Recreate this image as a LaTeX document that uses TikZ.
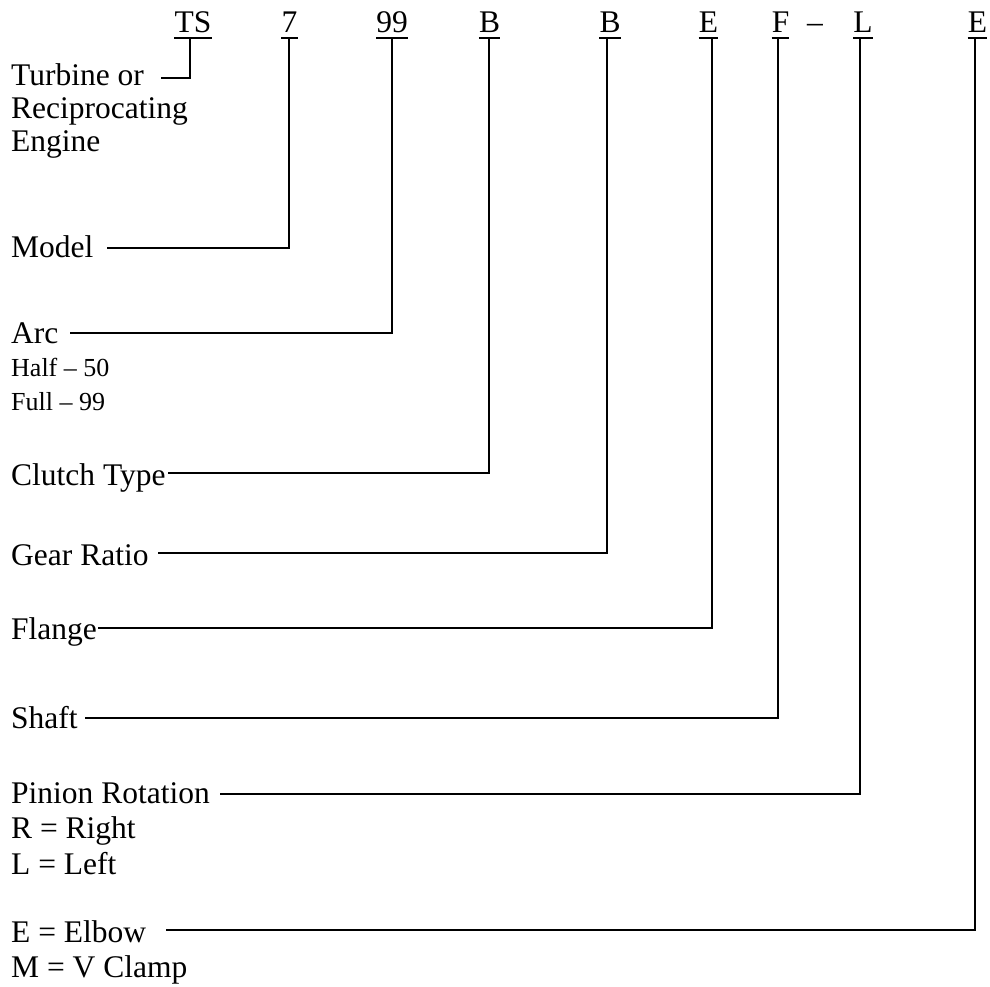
\documentclass[tikz,border=0pt]{standalone}
\usepackage{fontspec}
\setmainfont{Liberation Serif}
\begin{document}
\begin{tikzpicture}[x=1pt,y=-1pt,
  lab/.style={anchor=base west,inner sep=0pt,font=\fontsize{31.5}{33}\selectfont},
  sml/.style={anchor=base west,inner sep=0pt,font=\fontsize{26}{28}\selectfont},
  code/.style={anchor=base,inner sep=0pt,font=\fontsize{31.5}{33}\selectfont},
  conn/.style={line width=2pt},
  uline/.style={line width=1.7pt}]
\useasboundingbox (0,0) rectangle (990,987);
% code letters
\node[code] (cTS) at (193,33) {TS};
\node[code] (c7) at (289.5,33) {7};
\node[code] (c99) at (392,33) {99};
\node[code] (cB1) at (489.5,33) {B};
\node[code] (cB2) at (610,33) {B};
\node[code] (cE1) at (708.5,33) {E};
\node[code] (cF) at (780.5,33) {F};
\node[code] (dash) at (815,33) {–};
\node[code] (cL) at (863,33) {L};
\node[code] (cE2) at (977.5,33) {E};
\foreach \n in {cTS,c7,c99,cB1,cB2,cE1,cF,cL,cE2}
  \draw[uline] ([yshift=-5pt]\n.base west) -- ([yshift=-5pt]\n.base east);
% attachment points under the codes
\coordinate (vTS) at (190,38);
\coordinate (v7) at (289,38);
\coordinate (v99) at (392,38);
\coordinate (vB1) at (489,38);
\coordinate (vB2) at (607,38);
\coordinate (vE1) at (712,38);
\coordinate (vF) at (778,38);
\coordinate (vL) at (860,38);
\coordinate (vE2) at (975,38);
% labels
\node[lab] (tTurb) at (11,86) {Turbine or};
\node[lab] (tRecip) at (11,119) {Reciprocating};
\node[lab] (tEng) at (11,152) {Engine};
\node[lab] (tModel) at (11,257) {Model};
\node[lab] (tArc) at (11,343) {Arc};
\node[sml] (tHalf) at (11,376) {Half – 50};
\node[sml] (tFull) at (11,410) {Full – 99};
\node[lab] (tClutch) at (11,485) {Clutch Type};
\node[lab] (tGear) at (11,565) {Gear Ratio};
\node[lab] (tFlange) at (11,639) {Flange};
\node[lab] (tShaft) at (11,728) {Shaft};
\node[lab] (tPinion) at (11,803) {Pinion Rotation};
\node[lab] (tR) at (11,838) {R = Right};
\node[lab] (tL) at (11,874) {L = Left};
\node[lab] (tElbow) at (11,942) {E = Elbow};
\node[lab] (tClamp) at (11,977) {M = V Clamp};
% connector start points
\coordinate (sTurb) at (161,78);
\coordinate (sModel) at (107,248);
\coordinate (sArc) at (70,333);
\coordinate (sClutch) at (168,473);
\coordinate (sGear) at (158,553);
\coordinate (sFlange) at (98,628);
\coordinate (sShaft) at (85,718);
\coordinate (sPinion) at (220,794);
\coordinate (sElbow) at (166,930);
% connectors
\draw[conn] (sTurb) -| (vTS);
\draw[conn] (sModel) -| (v7);
\draw[conn] (sArc) -| (v99);
\draw[conn] (sClutch) -| (vB1);
\draw[conn] (sGear) -| (vB2);
\draw[conn] (sFlange) -| (vE1);
\draw[conn] (sShaft) -| (vF);
\draw[conn] (sPinion) -| (vL);
\draw[conn] (sElbow) -| (vE2);
\end{tikzpicture}
\end{document}
